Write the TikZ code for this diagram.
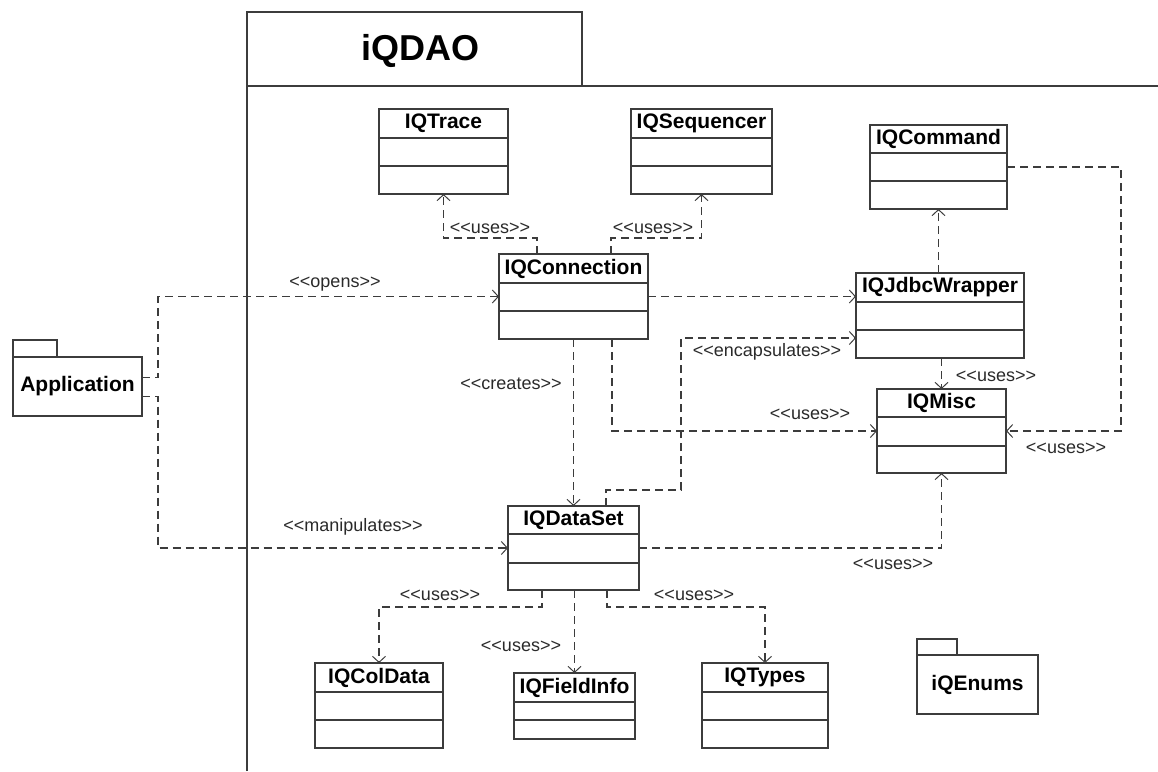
\documentclass[tikz,border=0pt]{standalone}
\usepackage{fontspec}
\setmainfont{Liberation Sans}
\usetikzlibrary{arrows.meta,calc}

\definecolor{linegray}{HTML}{3C3C3C}
\definecolor{labelgray}{HTML}{2A2A2A}

\tikzset{
  frameline/.style={draw=linegray, line width=2pt},
  clsbox/.style={draw=linegray, line width=1.3pt, inner sep=0pt, outer sep=0pt, fill=white},
  clsdiv/.style={draw=linegray, line width=1.3pt},
  clsname/.style={font=\fontsize{21}{25}\selectfont\bfseries, inner sep=0pt, text=black},
  titlename/.style={font=\fontsize{36}{40}\selectfont\bfseries, inner sep=0pt, text=black},
  dep/.style={draw=linegray, line width=1.3pt, dash pattern=on 8pt off 5pt,
    -{Straight Barb[length=6pt,width=13pt,line width=1pt]}},
  stereo/.style={font=\fontsize{18}{21}\selectfont, text=labelgray, inner sep=0pt},
}

% stereotype text, kept apart so << and >> stay as plain characters
\newcommand\stt[1]{<\kern0pt<#1>\kern0pt>}

% class box: name, left, top, right, bottom, first divider, second divider, title
\newcommand\classbox[8]{%
  \node[clsbox, minimum width={(#4)-(#2)}, minimum height={(#5)-(#3)}]
    (#1) at ({((#2)+(#4))/2},{((#3)+(#5))/2}) {};
  \draw[clsdiv] (#2,#6) -- (#4,#6);
  \draw[clsdiv] (#2,#7) -- (#4,#7);
  \node[clsname] (#1-name) at ({((#2)+(#4))/2},{((#3)+(#6))/2}) {#8};
}

% package box: name, left, tab top, tab right, body top, right, bottom, title
\newcommand\pkgbox[8]{%
  \draw[clsdiv] (#2,#5) -- (#2,#3) -- (#4,#3) -- (#4,#5);
  \node[clsbox, minimum width={(#6)-(#2)}, minimum height={(#7)-(#5)}]
    (#1) at ({((#2)+(#6))/2},{((#5)+(#7))/2}) {};
  \node[clsname] (#1-name) at (#1.center) {#8};
}

\begin{document}
\begin{tikzpicture}[x=1pt, y=-1pt]
\useasboundingbox (0,0) rectangle (1158,771);

% package frame with its name tab
\draw[frameline] (247,771) -- (247,12) -- (582,12) -- (582,86);
\draw[frameline] (247,86) -- (1158,86);
\node[titlename] (pkgtitle) at (420,51) {iQDAO};

% classes
\classbox{trace}{379}{109}{508}{194}{138}{166}{IQTrace}
\classbox{seq}{631}{109}{772}{194}{138}{166}{IQSequencer}
\classbox{cmd}{870}{125}{1007}{209}{153}{181}{IQCommand}
\classbox{conn}{499}{254}{648}{339}{283}{311}{IQConnection}
\classbox{jdbc}{856}{273}{1024}{358}{302}{330}{IQJdbcWrapper}
\classbox{misc}{877}{389}{1006}{473}{417}{446}{IQMisc}
\classbox{ds}{508}{506}{639}{590}{534}{563}{IQDataSet}
\classbox{col}{315}{663}{443}{748}{692}{720}{IQColData}
\classbox{fi}{514}{673}{635}{739}{702}{720}{IQFieldInfo}
\classbox{types}{702}{663}{828}{748}{692}{720}{IQTypes}

% packages
\pkgbox{app}{13}{340}{57}{357}{142}{416}{Application}
\pkgbox{enums}{917}{639}{957}{655}{1038}{714}{iQEnums}

% dependencies
\draw[dep] ($(conn.north west)+(38,0)$) -- ++(0,-16) -| (trace.south);
\node[stereo] (l1) at (490,228) {\stt{uses}};

\draw[dep] ($(conn.north west)+(112,0)$) -- ++(0,-16) -| (seq.south);
\node[stereo] (l2) at (653,228) {\stt{uses}};

\draw[dep] ($(app.east)+(0,-9)$) -- ++(16,0) |- (conn.west);
\node[stereo] (l3) at (335,284) {\stt{opens}};

\draw[dep] ($(app.east)+(0,10)$) -- ++(16,0) |- (ds.west);
\node[stereo] (l4) at (353,527) {\stt{manipulates}};

\draw[dep] (conn.east) -- (conn.east -| jdbc.west);

\draw[dep] (jdbc.north -| cmd.south) -- (cmd.south);

\draw[dep] (jdbc.south -| misc.north) -- (misc.north);
\node[stereo] (l5) at (996,376) {\stt{uses}};

\draw[dep] ($(conn.south west)+(113,0)$) |- (misc.west);
\node[stereo] (l6) at (810,414) {\stt{uses}};

\draw[dep] (conn.south) -- (ds.north);
\node[stereo] (l7) at (511,384) {\stt{creates}};

\draw[dep] ($(ds.north west)+(98,0)$) -- ++(0,-16) -- ++(75,0) |- ($(jdbc.south west)+(0,-20)$);
\node[stereo] (l8) at (767,352) {\stt{encapsulates}};

\draw[dep] (cmd.east) -- ++(114,0) |- (misc.east);
\node[stereo] (l9) at (1066,448) {\stt{uses}};

\draw[dep] (ds.east) -| (misc.south);
\node[stereo] (l10) at (893,564) {\stt{uses}};

\draw[dep] ($(ds.south west)+(34,0)$) -- ++(0,17) -| (col.north);
\node[stereo] (l11) at (440,595) {\stt{uses}};

\draw[dep] (ds.south -| fi.north) -- (fi.north);
\node[stereo] (l12) at (521,646) {\stt{uses}};

\draw[dep] ($(ds.south west)+(99,0)$) -- ++(0,17) -| (types.north);
\node[stereo] (l13) at (694,595) {\stt{uses}};
\end{tikzpicture}
\end{document}
